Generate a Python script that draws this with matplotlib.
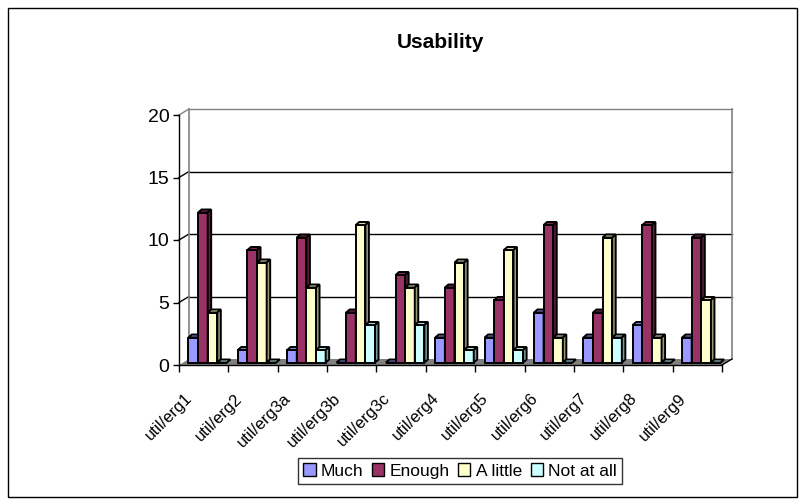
#!/usr/bin/env python3
"""Usability survey answers per question, drawn as an Excel-style 3D column chart."""
import matplotlib
matplotlib.use("Agg")
import matplotlib.pyplot as plt
from matplotlib.patches import Polygon, Rectangle, Patch
from matplotlib.colors import to_rgb
from matplotlib.transforms import ScaledTranslation
import numpy as np

plt.rcParams["font.family"] = ["Liberation Sans", "DejaVu Sans"]

categories = ["util/erg1", "util/erg2", "util/erg3a", "util/erg3b", "util/erg3c",
              "util/erg4", "util/erg5", "util/erg6", "util/erg7", "util/erg8", "util/erg9"]
series = ["Much", "Enough", "A little", "Not at all"]
much = [2, 1, 1, 0, 0, 2, 2, 4, 2, 3, 2]
enough = [12, 9, 10, 4, 7, 6, 5, 11, 4, 11, 10]
a_little = [4, 8, 6, 11, 6, 8, 9, 2, 10, 2, 5]
not_at_all = [0, 0, 1, 3, 3, 1, 1, 0, 2, 0, 0]
y_ticks = [0, 5, 10, 15, 20]

colors = ["#9999FF", "#993366", "#FFFFCC", "#CCFFFF"]

W, H = 805, 504
fig = plt.figure(figsize=(W / 100, H / 100), dpi=100)
fig.patch.set_facecolor("white")

# plot area in pixels (front plane)
left_px, right_px, top_px, base_px = 179, 722, 115, 365
ax = fig.add_axes([left_px / W, 1 - base_px / H,
                   (right_px - left_px) / W, (base_px - top_px) / H])
ncat = len(categories)
ymax = y_ticks[-1]
ax.set_xlim(0, ncat)
ax.set_ylim(0, ymax)
ax.set_facecolor("none")

# pixel -> data unit conversion
ux = ncat / (right_px - left_px)
uy = ymax / (base_px - top_px)

# depth of the walls and of the bars
wdx, wdy = 10 * ux, 6 * uy
bsx, bsy = 4 * ux, 2.5 * uy
bdx, bdy = 3.5 * ux, 3 * uy


def shade(c, f):
    return tuple(np.clip(np.array(to_rgb(c)) * f, 0, 1))


# floor
ax.add_patch(Polygon([(0, 0), (ncat, 0), (ncat + wdx, wdy), (wdx, wdy)],
                     closed=True, facecolor="#808080", edgecolor="none",
                     zorder=1, clip_on=False))

# back wall gridlines and the short diagonals on the left wall
for t in y_ticks[1:]:
    col = "#808080" if t == ymax else "black"
    ax.plot([wdx, ncat + wdx], [t + wdy, t + wdy], color=col, lw=1,
            zorder=1.5, clip_on=False)
    ax.plot([0, wdx], [t, t + wdy], color=col, lw=1, zorder=1.5, clip_on=False)
ax.plot([wdx, wdx], [wdy, ymax + wdy], color="#808080", lw=1.2, zorder=1.5, clip_on=False)
ax.plot([ncat + wdx, ncat + wdx], [wdy, ymax + wdy], color="#808080", lw=1.2,
        zorder=1.5, clip_on=False)
ax.plot([ncat, ncat + wdx], [0, wdy], color="black", lw=1, zorder=1.5, clip_on=False)

# columns
values = [much, enough, a_little, not_at_all]
w = 0.195
lw = 1.4
x = np.arange(ncat)
for j, (vals, c) in enumerate(zip(values, colors)):
    z = 3 + j
    lefts = x + 0.5 + (j - 2) * w + bsx
    ax.bar(lefts, vals, width=w, bottom=bsy, align="edge", color=c,
           edgecolor="black", linewidth=lw, zorder=z, clip_on=False)
    for x0, v in zip(lefts, vals):
        x1 = x0 + w
        top = v + bsy
        ax.add_patch(Polygon([(x0, top), (x1, top), (x1 + bdx, top + bdy), (x0 + bdx, top + bdy)],
                             closed=True, facecolor=shade(c, 0.85), edgecolor="black",
                             linewidth=lw, joinstyle="miter", zorder=z, clip_on=False))
        if v > 0:
            ax.add_patch(Polygon([(x1, bsy), (x1, top), (x1 + bdx, top + bdy), (x1 + bdx, bsy + bdy)],
                                 closed=True, facecolor=shade(c, 0.6), edgecolor="black",
                                 linewidth=lw, joinstyle="miter", zorder=z, clip_on=False))

# axes
for side in ["top", "right"]:
    ax.spines[side].set_visible(False)
for side in ["left", "bottom"]:
    ax.spines[side].set_color("black")
    ax.spines[side].set_linewidth(1)
    ax.spines[side].set_zorder(2)
ax.set_yticks(y_ticks)
ax.tick_params(axis="y", direction="out", length=4, width=1, labelsize=14, pad=3)
ax.set_xticks(np.arange(ncat + 1))
ax.set_xticklabels([])
ax.tick_params(axis="x", which="major", direction="out", length=5, width=1)
ax.set_xticks(x + 0.5, minor=True)
ax.set_xticklabels(categories, minor=True, rotation=45, ha="right",
                   rotation_mode="anchor", fontsize=12)
ax.tick_params(axis="x", which="minor", length=0, pad=12)
shift = ScaledTranslation(-0.19, -0.09, fig.dpi_scale_trans)
for lab in ax.get_xticklabels(minor=True):
    lab.set_transform(lab.get_transform() + shift)

fig.text(440 / W, 1 - 42 / H, "Usability", ha="center", va="center",
         fontsize=15, fontweight="bold")

handles = [Patch(facecolor=c, edgecolor="black", linewidth=1) for c in colors]
leg = fig.legend(handles, series, loc="center", bbox_to_anchor=(460 / W, 1 - 471 / H),
                 ncol=4, fontsize=12.5, frameon=True, fancybox=False, edgecolor="black",
                 borderpad=0.3, handlelength=0.7, handleheight=0.7, handletextpad=0.3,
                 columnspacing=0.5, borderaxespad=0)
leg.get_frame().set_linewidth(1)

# chart border
fig.patches.append(Rectangle((8 / W, 7 / H), 789 / W, 489 / H, transform=fig.transFigure,
                             fill=False, edgecolor="black", linewidth=1))

fig.savefig("out.png", dpi=100)
